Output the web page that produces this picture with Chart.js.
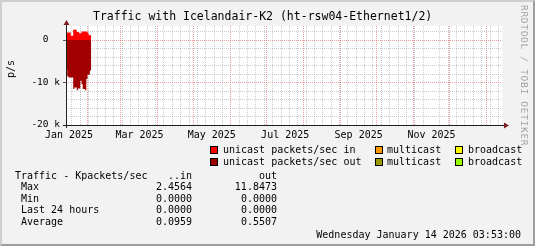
<!DOCTYPE html>
<html>
<head>
<meta charset="utf-8">
<script src="https://cdn.jsdelivr.net/npm/chart.js"></script>
<style>
    html, body { margin: 0; padding: 0; }
    #graph {
        position: relative;
        width: 535px;
        height: 246px;
        background: #F2F2F2;
        box-sizing: border-box;
        border-left: 2px solid #CFCFCF;
        border-top: 2px solid #CFCFCF;
        border-right: 2px solid #9E9E9E;
        border-bottom: 2px solid #9E9E9E;
        font-family: "DejaVu Sans Mono", monospace;
        color: #000;
    }
    #chart { position: absolute; left: -2px; top: -2px; }
    .txt { position: absolute; white-space: pre; font-size: 10px; line-height: 12px; }
    .r { text-align: right; }
    .sw { position: absolute; width: 6px; height: 6px; border: 1px solid #000; }
</style>
</head>
<body>
<div id="graph">
    <canvas id="chart" width="535" height="246"></canvas>

    <div class="txt" id="title" style="left:91px; top:8px; font-size:11.5px; line-height:13px;">Traffic with Icelandair-K2 (ht-rsw04-Ethernet1/2)</div>
    <div class="txt" style="left:3px; top:64px; transform:rotate(-90deg); transform-origin:6px 6px;">p/s</div>
    <div class="txt" id="watermark" style="left:516px; top:3px; writing-mode:vertical-rl; font-size:9.5px; letter-spacing:0.7px; color:#A0A0A0;">RRDTOOL / TOBI OETIKER</div>

    <div id="legend"></div>
    <div id="table"></div>

    <div class="txt r" style="right:12px; top:227px;">Wednesday January 14 2026 03:53:00</div>
</div>

<script>
// days counted from Jan 14 2025 (left edge of the graph)
const startDays = [0, 1, 2, 3, 4, 5, 6, 7, 8, 9, 10, 11, 12, 13, 14, 15, 16, 17, 18, 19, 20, 21, 22];

// unicast packets/sec in (positive side)
const unicastIn = [1750, 1750, 1750, 1750, 1750, 1000, 1000, 2456, 2400, 2400, 1900, 1900, 1600, 1600,
    2000, 2000, 2000, 2000, 2000, 1600, 1150, 1150, 0];

// unicast packets/sec out (drawn below zero)
const unicastOut = [-6900, -6900, -8500, -8800, -8800, -8800, -8800, -11500, -11200, -11200, -11847, -11400,
    -11400, -9600, -10400, -11500, -11500, -11800, -9200, -8200, -8200, -7200, 0];

// grid / label positions on the time axis (days from Jan 14 2025)
const monthStarts = [18, 46, 77, 107, 138, 168, 199, 230, 260, 291, 321, 352];
const monthLabelDays = [2.5, 61.5, 122, 183.5, 245, 306];
const monthLabels = ['Jan 2025', 'Mar 2025', 'May 2025', 'Jul 2025', 'Sep 2025', 'Nov 2025'];
const firstWeekLine = 5;

// y axis lines (p/s)
const yTicks = [-20000, -18000, -16000, -14000, -12000, -10000, -8000, -6000, -4000, -2000, 0, 2000];

// legend + table text
const legendRows = [
    [['#FF0000', 'unicast packets/sec in'], ['#FF9900', 'multicast'], ['#FFFF00', 'broadcast']],
    [['#990000', 'unicast packets/sec out'], ['#999900', 'multicast'], ['#99FF00', 'broadcast']]
];
const tableRows = [
    ['Max', '2.4564', '11.8473'],
    ['Min', '0.0000', '0.0000'],
    ['Last 24 hours', '0.0000', '0.0000'],
    ['Average', '0.0959', '0.5507']
];

const MAJOR = 'rgba(222,79,79,0.55)';
const MINOR = 'rgba(143,143,143,0.45)';

// build the x tick list: weekly minor lines, monthly major lines, label spots
const xKind = new Map();
for (let d = firstWeekLine; d < 365; d += 7) xKind.set(d, 'week');
monthStarts.forEach(d => xKind.set(d, 'month'));
monthLabelDays.forEach((d, i) => xKind.set(d, 'label' + i));

function toPoints(values) {
    return startDays.map((d, i) => ({ x: d, y: values[i] }));
}

// white plot canvas + axes with arrows
const rrdPlugin = {
    id: 'rrd',
    beforeDraw(chart) {
        const { ctx, chartArea: a } = chart;
        ctx.save();
        ctx.fillStyle = '#FFFFFF';
        ctx.fillRect(a.left, a.top, a.right - a.left, a.bottom - a.top);
        ctx.restore();
    },
    afterDraw(chart) {
        const { ctx, chartArea: a } = chart;
        ctx.save();
        ctx.strokeStyle = '#1F1F1F';
        ctx.lineWidth = 1;
        ctx.beginPath();
        ctx.moveTo(a.left - 3, a.bottom + 0.5);
        ctx.lineTo(a.right + 4, a.bottom + 0.5);
        ctx.moveTo(a.left + 0.5, a.bottom + 3);
        ctx.lineTo(a.left + 0.5, a.top - 3);
        ctx.stroke();
        ctx.fillStyle = '#801F1F';
        ctx.beginPath();
        ctx.moveTo(a.right + 2, a.bottom - 2.5);
        ctx.lineTo(a.right + 7, a.bottom + 0.5);
        ctx.lineTo(a.right + 2, a.bottom + 3.5);
        ctx.fill();
        ctx.beginPath();
        ctx.moveTo(a.left - 2.5, a.top - 1);
        ctx.lineTo(a.left + 0.5, a.top - 6);
        ctx.lineTo(a.left + 3.5, a.top - 1);
        ctx.fill();
        ctx.restore();
    }
};

new Chart(document.getElementById('chart'), {
    type: 'line',
    data: {
        datasets: [
            {
                label: 'unicast packets/sec in',
                data: toPoints(unicastIn),
                stepped: 'after',
                fill: 'origin',
                backgroundColor: '#FF0000',
                borderColor: 'transparent',
                borderWidth: 0,
                pointRadius: 0
            },
            {
                label: 'unicast packets/sec out',
                data: toPoints(unicastOut),
                stepped: 'after',
                fill: 'origin',
                backgroundColor: '#A00000',
                borderColor: 'transparent',
                borderWidth: 0,
                pointRadius: 0
            }
        ]
    },
    options: {
        responsive: false,
        animation: false,
        devicePixelRatio: 1,
        layout: { padding: { left: 2, top: 26, right: 33, bottom: 101 } },
        plugins: { legend: { display: false }, tooltip: { enabled: false } },
        scales: {
            x: {
                type: 'linear',
                min: 0,
                max: 365,
                afterFit: (scale) => { scale.height = 20; },
                afterBuildTicks: (scale) => {
                    scale.ticks = [...xKind.keys()].sort((p, q) => p - q).map(v => ({ value: v }));
                },
                ticks: {
                    autoSkip: false,
                    maxRotation: 0,
                    padding: 2,
                    color: '#000',
                    font: { family: 'DejaVu Sans Mono', size: 10 },
                    callback: (v) => {
                        const k = xKind.get(v) || '';
                        return k.startsWith('label') ? monthLabels[+k.slice(5)] : '';
                    }
                },
                grid: {
                    drawTicks: true,
                    tickLength: 2,
                    color: (ctx) => {
                        const k = xKind.get(ctx.tick && ctx.tick.value);
                        if (k === 'month') return MAJOR;
                        if (k === 'week') return MINOR;
                        return 'transparent';
                    },
                    tickColor: 'transparent'
                },
                border: { display: false, dash: [1, 1] }
            },
            y: {
                min: -20000,
                max: 3300,
                afterFit: (scale) => { scale.width = 64; },
                afterBuildTicks: (scale) => {
                    scale.ticks = yTicks.map(v => ({ value: v }));
                },
                ticks: {
                    autoSkip: false,
                    padding: 3,
                    color: '#000',
                    font: { family: 'DejaVu Sans Mono', size: 9.5 },
                    callback: (v) => {
                        if (v % 10000 !== 0) return '';
                        return v === 0 ? '0  ' : (v / 1000) + ' k';
                    }
                },
                grid: {
                    drawTicks: true,
                    tickLength: 3,
                    color: (ctx) => (ctx.tick && ctx.tick.value % 10000 === 0) ? MAJOR : MINOR,
                    tickColor: (ctx) => (ctx.tick && ctx.tick.value % 10000 === 0) ? '#555555' : 'transparent'
                },
                border: { display: false, dash: [1, 1] }
            }
        }
    },
    plugins: [rrdPlugin]
});

// legend rows under the graph
const legend = document.getElementById('legend');
const legendX = [[208, 221], [373, 385], [453, 466]];
legendRows.forEach((row, r) => {
    row.forEach(([color, text], c) => {
        const sw = document.createElement('div');
        sw.className = 'sw';
        sw.style.left = legendX[c][0] + 'px';
        sw.style.top = (144 + r * 12) + 'px';
        sw.style.background = color;
        legend.appendChild(sw);
        const t = document.createElement('div');
        t.className = 'txt';
        t.style.left = legendX[c][1] + 'px';
        t.style.top = (142 + r * 12) + 'px';
        t.textContent = text;
        legend.appendChild(t);
    });
});

// the summary table
const table = document.getElementById('table');
function addText(text, x, y, right) {
    const t = document.createElement('div');
    t.className = right ? 'txt r' : 'txt';
    if (right) t.style.right = (533 - x) + 'px';
    else t.style.left = x + 'px';
    t.style.top = y + 'px';
    t.textContent = text;
    table.appendChild(t);
}
addText('Traffic - Kpackets/sec', 13, 168);
addText('..in', 192, 168, true);
addText('out', 277, 168, true);
tableRows.forEach((row, i) => {
    const y = 179 + i * 11.7;
    addText(row[0], 19, y);
    addText(row[1], 192, y, true);
    addText(row[2], 277, y, true);
});
</script>
</body>
</html>
